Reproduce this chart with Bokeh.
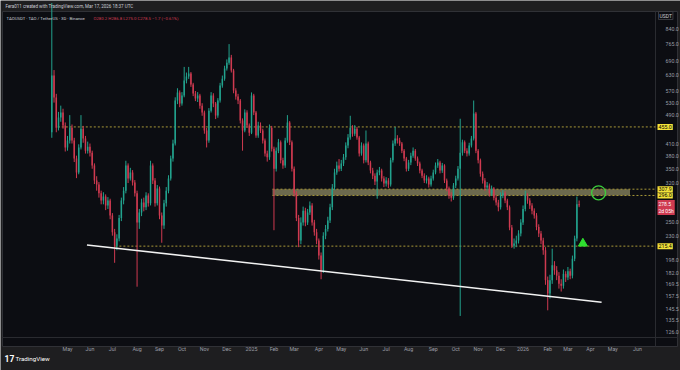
import math
import pandas as pd
from bokeh.plotting import figure
from bokeh.models import Range1d, FixedTicker, PrintfTickFormatter, Label, ColumnDataSource
from bokeh.embed import file_html
from bokeh.resources import INLINE

# ---------------- data ----------------
header_text = "Fera011 created with TradingView.com, Mar 17, 2026 18:37 UTC"
symbol_text = "TAOUSDT · TAO / TetherUS · 3D · Binance"
ohlc_text = "O280.2 H286.8 L275.0 C278.5 −1.7 (−0.61%)"
first_candle = "2024-04-11"
first_open = 440.0

closes = [628, 547, 453, 483, 498, 459, 400, 418, 453, 418,
          373, 342, 400, 450, 423, 392, 402, 387, 357, 325,
          317, 300, 287, 294, 278, 287, 261, 235, 216, 226,
          257, 287, 305, 357, 329, 342, 321, 300, 250, 266,
          283, 275, 296, 282, 357, 325, 282, 309, 261, 245,
          282, 305, 329, 373, 410, 537, 565, 527, 554, 609,
          624, 636, 594, 561, 544, 554, 520, 498, 445, 418,
          504, 554, 527, 489, 537, 590, 616, 656, 681, 703,
          648, 572, 551, 537, 474, 445, 498, 459, 439, 554,
          498, 431, 459, 445, 418, 385, 376, 453, 397, 350,
          392, 413, 369, 357, 418, 468, 413, 350, 300, 257,
          223, 250, 269, 250, 266, 278, 250, 235, 223, 203,
          185, 230, 240, 253, 275, 311, 342, 357, 350, 362,
          376, 405, 426, 453, 436, 450, 426, 385, 405, 369,
          410, 364, 346, 335, 323, 342, 346, 329, 319, 325,
          317, 369, 410, 423, 418, 410, 392, 373, 350, 364,
          380, 392, 373, 362, 346, 335, 325, 329, 317, 329,
          342, 357, 364, 346, 357, 325, 309, 296, 292, 315,
          329, 350, 387, 413, 392, 385, 405, 423, 495, 392,
          369, 339, 325, 311, 315, 300, 309, 292, 283, 275,
          296, 300, 287, 275, 242, 216, 219, 223, 233, 250,
          272, 296, 287, 278, 269, 261, 243, 233, 223, 210,
          174, 160, 174, 191, 185, 179, 170, 168, 181, 177,
          184, 179, 199, 226, 280.2, 278.5]

highs = [990, 650, 560, 500, 520, 510, 468, 430, 490, 462,
         425, 380, 408, 490, 458, 430, 415, 410, 392, 362,
         334, 322, 305, 302, 298, 293, 290, 265, 240, 232,
         262, 292, 312, 368, 362, 352, 347, 326, 305, 272,
         290, 292, 302, 300, 368, 362, 330, 316, 313, 266,
         288, 312, 336, 380, 420, 548, 580, 572, 566, 663,
         640, 663, 642, 600, 570, 566, 560, 528, 504, 452,
         512, 566, 562, 532, 545, 600, 628, 668, 695, 765,
         715, 655, 580, 560, 542, 480, 508, 505, 465, 565,
         560, 503, 470, 468, 450, 423, 392, 462, 458, 402,
         400, 422, 418, 375, 425, 490, 472, 418, 355, 304,
         262, 258, 276, 274, 272, 285, 282, 254, 240, 226,
         207, 235, 246, 259, 281, 318, 350, 366, 372, 370,
         384, 413, 435, 488, 460, 460, 455, 430, 413, 410,
         445, 415, 368, 352, 340, 348, 354, 350, 334, 332,
         330, 375, 418, 455, 432, 425, 414, 396, 377, 370,
         387, 400, 396, 378, 366, 350, 340, 336, 333, 335,
         348, 364, 372, 368, 363, 360, 329, 313, 302, 320,
         335, 356, 479, 420, 418, 398, 412, 430, 537, 500,
         396, 373, 344, 330, 322, 319, 315, 312, 296, 288,
         302, 306, 304, 290, 278, 246, 226, 230, 238, 255,
         278, 305, 300, 291, 282, 273, 265, 247, 237, 227,
         214, 178, 180, 212, 196, 190, 183, 175, 186, 184,
         189, 187, 203, 230, 294, 286.8]

lows = [425, 530, 440, 445, 470, 450, 390, 392, 410, 410,
        365, 330, 338, 395, 412, 385, 385, 378, 350, 318,
        305, 292, 280, 280, 270, 272, 255, 230, 194, 210,
        222, 252, 280, 300, 320, 325, 315, 294, 167, 240,
        260, 268, 270, 276, 278, 318, 276, 278, 255, 220,
        240, 276, 300, 325, 366, 405, 525, 515, 520, 548,
        598, 615, 585, 552, 535, 532, 510, 488, 436, 400,
        412, 498, 515, 478, 482, 530, 582, 608, 648, 672,
        640, 562, 540, 525, 465, 392, 440, 452, 430, 435,
        490, 425, 425, 438, 410, 378, 366, 370, 390, 238,
        344, 386, 362, 350, 352, 412, 406, 344, 294, 252,
        214, 218, 245, 244, 246, 262, 245, 230, 218, 198,
        175, 182, 225, 236, 249, 270, 306, 337, 344, 345,
        356, 370, 398, 420, 428, 430, 420, 378, 380, 362,
        364, 358, 340, 328, 316, 290, 336, 323, 312, 313,
        310, 313, 364, 404, 410, 404, 386, 367, 344, 345,
        358, 375, 368, 356, 340, 330, 320, 319, 311, 313,
        325, 338, 352, 340, 341, 320, 304, 290, 285, 288,
        310, 325, 139, 380, 386, 378, 380, 400, 418, 386,
        362, 333, 319, 305, 306, 294, 295, 287, 278, 268,
        271, 291, 282, 270, 238, 213, 212, 214, 219, 229,
        246, 268, 281, 272, 263, 256, 238, 228, 218, 204,
        169, 144, 155, 170, 180, 174, 165, 162, 165, 172,
        174, 175, 176, 196, 222, 275.0]

price_ticks = [126.0, 135.5, 145.5, 157.5, 169.5, 182.0, 198.0, 230.0, 250.0,
               320.0, 350.0, 380.0, 410.0, 490.0, 530.0, 570.0, 630.0, 690.0,
               765.0, 840.0]
month_labels = ["May", "Jun", "Jul", "Aug", "Sep", "Oct", "Nov", "Dec", "2025",
                "Feb", "Mar", "Apr", "May", "Jun", "Jul", "Aug", "Sep", "Oct",
                "Nov", "Dec", "2026", "Feb", "Mar", "Apr", "May", "Jun"]
first_month = "2024-05-01"

level_high = 455.0
level_support = 215.4
zone_low, zone_high = 296.0, 307.9
last_price = 278.5
countdown = "2d 05h"

level_high_from = "2024-04-19"
level_support_from = "2024-07-05"
zone_from, zone_to = "2025-01-31", "2026-05-24"
trend_start = ("2024-05-28", 217.0)
trend_end = ("2026-04-16", 151.5)
circle_point = ("2026-04-12", 301.0)
triangle_point = ("2026-03-22", 219.0)

# ---------------- styling / layout ----------------
UP = "#22a28d"
DOWN = "#cf3a50"
BG = "#0c0d12"
PANEL = "#1e1e20"
TXT = "#9a9da6"
YEL = "#f3e23a"
LINE = "#2a2b30"
FONT = "Roboto"
W, H = 680, 370

t0 = pd.Timestamp(first_candle)
X0, PX_DAY = 51.3, 0.748          # screen position of first candle, px per day
Y840, PX_LN = 28.7, 159.4         # screen position of 840.0, px per log unit


def ms(d):
    return pd.Timestamp(d).timestamp() * 1000.0


def date_at(px):                   # layout helper: screen x -> time
    return t0 + pd.Timedelta(days=(px - X0) / PX_DAY)


def price_at(py):                  # layout helper: screen y -> price (log)
    return math.exp(math.log(840.0) - (py - Y840) / PX_LN)


dates = pd.date_range(first_candle, periods=len(closes), freq="3D")
opens = [first_open] + closes[:-1]
colors = [UP if c >= o else DOWN for o, c in zip(opens, closes)]
src = ColumnDataSource(dict(
    date=dates, high=highs, low=lows,
    top=[max(o, c) for o, c in zip(opens, closes)],
    bottom=[min(o, c) for o, c in zip(opens, closes)],
    color=colors))

day = 86400000.0
x_lo, x_hi = ms(date_at(0)), ms(date_at(W))
p = figure(width=W, height=H, x_axis_type="datetime", y_axis_type="log",
           x_range=Range1d(x_lo, x_hi), y_range=Range1d(price_at(H), price_at(0)),
           output_backend="svg", toolbar_location=None, y_axis_location="right",
           background_fill_color=PANEL, border_fill_color=PANEL,
           min_border=0, min_border_left=0, min_border_right=0,
           min_border_top=0, min_border_bottom=0)
p.outline_line_color = None
p.grid.visible = False

# chart panel (dark) with separators
pl, pr, pt, pb = ms(date_at(2)), ms(date_at(677)), price_at(11), price_at(346)
p.quad(left=[pl], right=[pr], top=[pt], bottom=[pb], fill_color=BG,
       line_color="#303136", line_width=1)
ax_x = ms(date_at(655))
ax_y = price_at(337)
p.segment(x0=[ax_x, pl], y0=[pt, ax_y], x1=[ax_x, pr], y1=[pb, ax_y],
          line_color=LINE, line_width=1)

# axes drawn inside the panel
bars_ahead = pd.date_range(first_candle, periods=320, freq="3D")
months = pd.date_range(first_month, periods=len(month_labels), freq="MS")
month_ticks = [ms(bars_ahead[bars_ahead >= m][0]) for m in months]
p.xaxis.ticker = FixedTicker(ticks=month_ticks)
p.xaxis.major_label_overrides = {t: lab for t, lab in zip(month_ticks, month_labels)}
p.xaxis.fixed_location = ax_y
p.yaxis.ticker = FixedTicker(ticks=price_ticks)
p.yaxis.formatter = PrintfTickFormatter(format="%.1f")
p.yaxis.fixed_location = ax_x
for ax in (p.xaxis, p.yaxis):
    ax.major_label_text_font = FONT
    ax.major_label_text_font_size = "5.3px"
    ax.major_label_text_color = TXT
    ax.major_tick_line_color = None
    ax.minor_tick_line_color = None
    ax.axis_line_color = None
p.xaxis.major_label_standoff = 2
p.yaxis.major_label_standoff = 4

# zone & levels
p.quad(left=[ms(zone_from)], right=[ms(zone_to)], bottom=[zone_low], top=[zone_high],
       fill_color="#6c694e", fill_alpha=1.0, line_color=None)
dash_col = "#a89838"
p.segment(x0=[ms(level_high_from), ms(level_support_from), ms(zone_from), ms(zone_from)],
          y0=[level_high, level_support, zone_low, zone_high],
          x1=[ax_x] * 4, y1=[level_high, level_support, zone_low, zone_high],
          line_color=dash_col, line_dash="2 2", line_width=1)

# candles
p.segment(x0="date", y0="high", x1="date", y1="low", line_color="color", line_width=1, source=src)
p.vbar(x="date", width=2.0 * day, top="top", bottom="bottom",
       fill_color="color", line_color=None, source=src)

# trend line and markers
p.line(x=[ms(trend_start[0]), ms(trend_end[0])], y=[trend_start[1], trend_end[1]],
       line_color="#f2f2f2", line_width=1.6)
p.scatter(x=[ms(circle_point[0])], y=[circle_point[1]], marker="circle", size=14,
          fill_color=None, line_color="#3ccf3c", line_width=1.3)
p.scatter(x=[ms(triangle_point[0])], y=[triangle_point[1]], marker="triangle", size=9,
          fill_color="#2fe02f", line_color="#2fe02f")


# texts
def lab(px, py, text, **kw):
    opts = dict(text_font=FONT, text_font_size="5px", text_color=TXT,
                text_baseline="middle", text_align="left")
    opts.update(kw)
    p.add_layout(Label(x=ms(date_at(px)), y=price_at(py), text=text, **opts))


lab(5, 6, header_text, text_color="#c9ccd4", text_font_size="4.5px")
lab(6, 17.5, symbol_text, text_color="#c9ccd4", text_font_size="4.3px")
lab(93, 17.5, ohlc_text, text_color=DOWN, text_font_size="4.3px")
lab(4, 358, "17", text_color="#ffffff", text_font_size="8.5px", text_font_style="bold")
lab(15, 358, "TradingView", text_color="#ffffff", text_font_size="6.2px")

for val in (level_high, zone_high, zone_low, level_support):
    p.add_layout(Label(x=ms(date_at(657)), y=val, text="%.1f" % val, text_font=FONT,
                       text_font_size="5.3px", text_color="#000000", text_baseline="middle",
                       text_align="left", background_fill_color=YEL, padding=1))
lab(657, 207, "%.1f\n%s" % (last_price, countdown), text_color="#ffffff",
    background_fill_color=DOWN, padding=1, text_font_size="5px")
lab(658, 15, "USDT", text_color="#c9ccd4", background_fill_color=BG,
    border_line_color="#3a3b40", padding=1, text_font_size="5px")

open("out.html", "w").write(file_html(p, INLINE))
